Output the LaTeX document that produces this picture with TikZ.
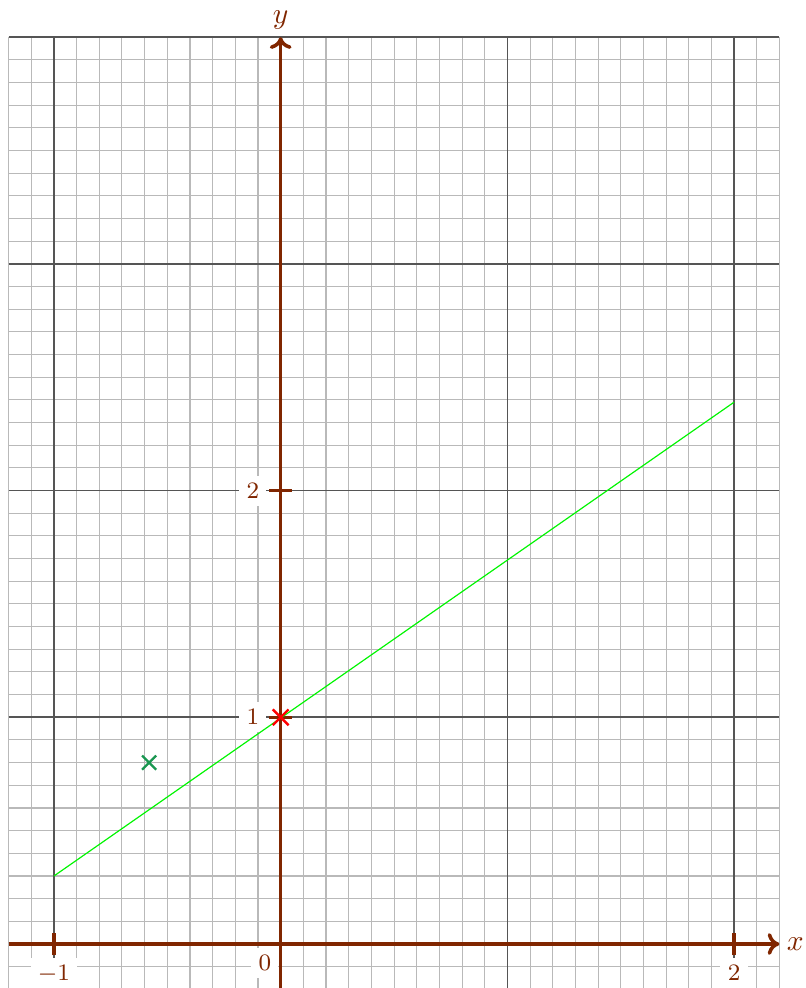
\documentclass[tikz,border=0pt]{standalone}
\usetikzlibrary{arrows.meta,shapes.misc}
\definecolor{axiscol}{RGB}{128,38,0}
\definecolor{minorgrid}{RGB}{185,185,185}
\definecolor{majorgrid}{RGB}{85,85,85}
\definecolor{crossgreen}{RGB}{25,150,80}
\definecolor{linegreen}{RGB}{0,245,0}
\begin{document}
\begin{tikzpicture}[x=2.7cm,y=2.7cm,
  minorlines/.style={minorgrid, line width=0.35pt},
  majorlines/.style={majorgrid, line width=0.55pt},
  axisline/.style={axiscol, line width=1.2pt, -{To[length=1.4mm,width=2.6mm]}},
  tickmark/.style={axiscol, line width=1.1pt},
  ticklabel/.style={text=axiscol, fill=white, font=\footnotesize, inner sep=2.5pt},
  axislabel/.style={text=axiscol, inner sep=1pt},
  markcross/.style={cross out, draw, inner sep=0pt, line width=0.8pt}]
\useasboundingbox (-1.238,-0.194) rectangle (2.317,4.164);
% minor grid
\foreach \i in {-12,...,22} {
  \draw[minorlines] (\i/10,-0.2) -- (\i/10,4);
}
\foreach \j in {-2,...,40} {
  \draw[minorlines] (-1.2,\j/10) -- (2.2,\j/10);
}
% major grid
\foreach \i in {-1,...,2} {
  \draw[majorlines] (\i,-0.2) -- (\i,4);
}
\foreach \j in {0,...,4} {
  \draw[majorlines] (-1.2,\j) -- (2.2,\j);
}
% tick labels
\node[ticklabel, anchor=north] (lxm1) at (-1,-0.06) {$-1$};
\node[ticklabel] (lx0) at (-0.07,-0.085) {$0$};
\node[ticklabel, anchor=north] (lx2) at (2,-0.06) {$2$};
\node[ticklabel] (ly1) at (-0.123,1) {$1$};
\node[ticklabel] (ly2) at (-0.123,2) {$2$};
% axes
\coordinate (xs) at (-1.2,0);
\coordinate (xe) at (2.2,0);
\coordinate (ys) at (0,-0.2);
\coordinate (ye) at (0,4);
\draw[axisline] (xs) -- (xe);
\draw[axisline] (ys) -- (ye);
\node[axislabel] (xlab) at (2.27,0) {$x$};
\node[axislabel] (ylab) at (0,4.075) {$y$};
% ticks
\draw[tickmark] (-1,-0.05) -- (-1,0.05);
\draw[tickmark] (2,-0.05) -- (2,0.05);
\draw[tickmark] (-0.05,1) -- (0.05,1);
\draw[tickmark] (-0.05,2) -- (0.05,2);
% line
\coordinate (p) at (-1,0.3);
\coordinate (q) at (2,2.39);
\draw[linegreen, line width=0.4pt] (p) -- (q);
% marks
\node[markcross, draw=crossgreen, minimum size=0.14cm] (c1) at (-0.58,0.8) {};
\node[markcross, draw=red, minimum size=0.16cm] (c2) at (0,1) {};
\end{tikzpicture}
\end{document}
